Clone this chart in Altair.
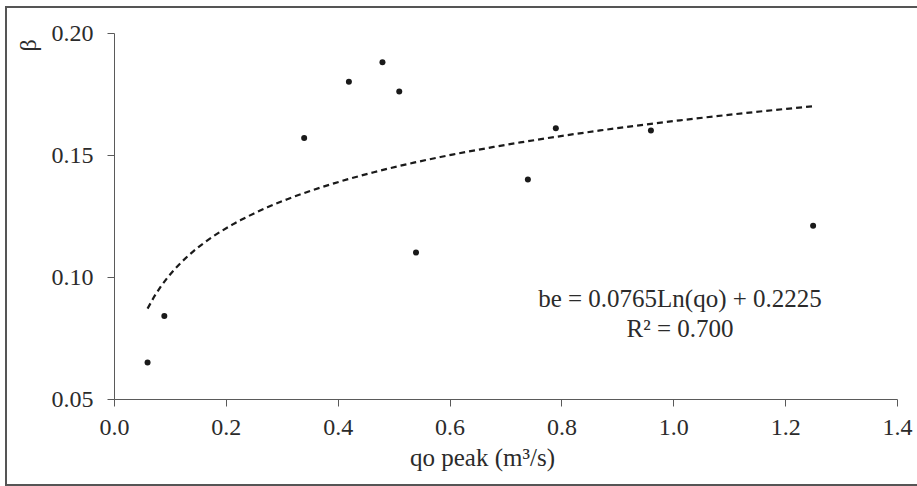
import altair as alt
import pandas as pd

# data
qo_peak = [0.06, 0.09, 0.34, 0.42, 0.48, 0.51, 0.54, 0.74, 0.79, 0.96, 1.25]
beta = [0.065, 0.084, 0.157, 0.180, 0.188, 0.176, 0.110, 0.140, 0.161, 0.160, 0.121]
x_ticks = [0.0, 0.2, 0.4, 0.6, 0.8, 1.0, 1.2, 1.4]
y_ticks = [0.05, 0.10, 0.15, 0.20]
eq_line1 = "be = 0.0765Ln(qo) + 0.2225"
eq_line2 = "R² = 0.700"

df = pd.DataFrame({"qo": qo_peak, "beta": beta})

FONT = "Liberation Serif"
TXT = "#2b2b2b"
AX = "#5a5a5a"

W, H = 783, 366
L, T = 114, 33

xscale = alt.Scale(domain=[0, 1.4], nice=False, zero=False)
yscale = alt.Scale(domain=[0.05, 0.20], nice=False, zero=False)

xaxis = alt.Axis(values=x_ticks, format=".1f", title="qo peak (m³/s)",
                 grid=False, tickSize=7, labelPadding=9, domainColor=AX, tickColor=AX,
                 labelFont=FONT, labelFontSize=24, labelColor=TXT,
                 titleFont=FONT, titleFontSize=25, titleFontWeight="normal", titleColor=TXT,
                 titleX=368, titleY=66, titleAlign="center", titleBaseline="alphabetic",
                 labelFlush=False)
yaxis = alt.Axis(values=y_ticks, format=".2f", title="β",
                 grid=False, tickSize=7, labelPadding=14, domainColor=AX, tickColor=AX,
                 labelFont=FONT, labelFontSize=24, labelColor=TXT, labelBaseline="middle",
                 titleFont=FONT, titleFontSize=24, titleFontWeight="normal", titleColor=TXT,
                 titleAngle=270, titleX=-86, titleY=12, titleAlign="center",
                 titleBaseline="middle", labelFlush=False)

base = alt.Chart(df)

points = base.mark_circle(size=36, color="#1a1a1a", opacity=1).encode(
    x=alt.X("qo:Q", scale=xscale, axis=xaxis),
    y=alt.Y("beta:Q", scale=yscale, axis=yaxis),
)

trend = base.transform_regression("qo", "beta", method="log").mark_line(
    color="#1a1a1a", strokeDash=[6, 4], strokeWidth=2.2
).encode(
    x=alt.X("qo:Q", scale=xscale),
    y=alt.Y("beta:Q", scale=yscale),
)

text1 = alt.Chart(pd.DataFrame({"label": [eq_line1]})).mark_text(
    font=FONT, fontSize=25, color=TXT, align="center", baseline="alphabetic"
).encode(text="label:N", x=alt.value(566), y=alt.value(274))
text2 = alt.Chart(pd.DataFrame({"label": [eq_line2]})).mark_text(
    font=FONT, fontSize=25, color=TXT, align="center", baseline="alphabetic"
).encode(text="label:N", x=alt.value(566), y=alt.value(304))

border = alt.Chart(pd.DataFrame({"k": [0]})).mark_rect(
    fillOpacity=0, stroke="#555555", strokeWidth=2
).encode(x=alt.value(6 - L), x2=alt.value(925 - L), y=alt.value(7 - T), y2=alt.value(485 - T))

chart = alt.layer(border, trend, points, text1, text2).properties(
    width=W, height=H,
    autosize=alt.AutoSizeParams(type="none"),
    padding={"left": L, "top": T, "right": 917 - L - W, "bottom": 486 - T - H},
    background="white",
).configure_view(stroke="transparent")

chart.save("out.html", embed_options={"renderer": "svg", "actions": False})
